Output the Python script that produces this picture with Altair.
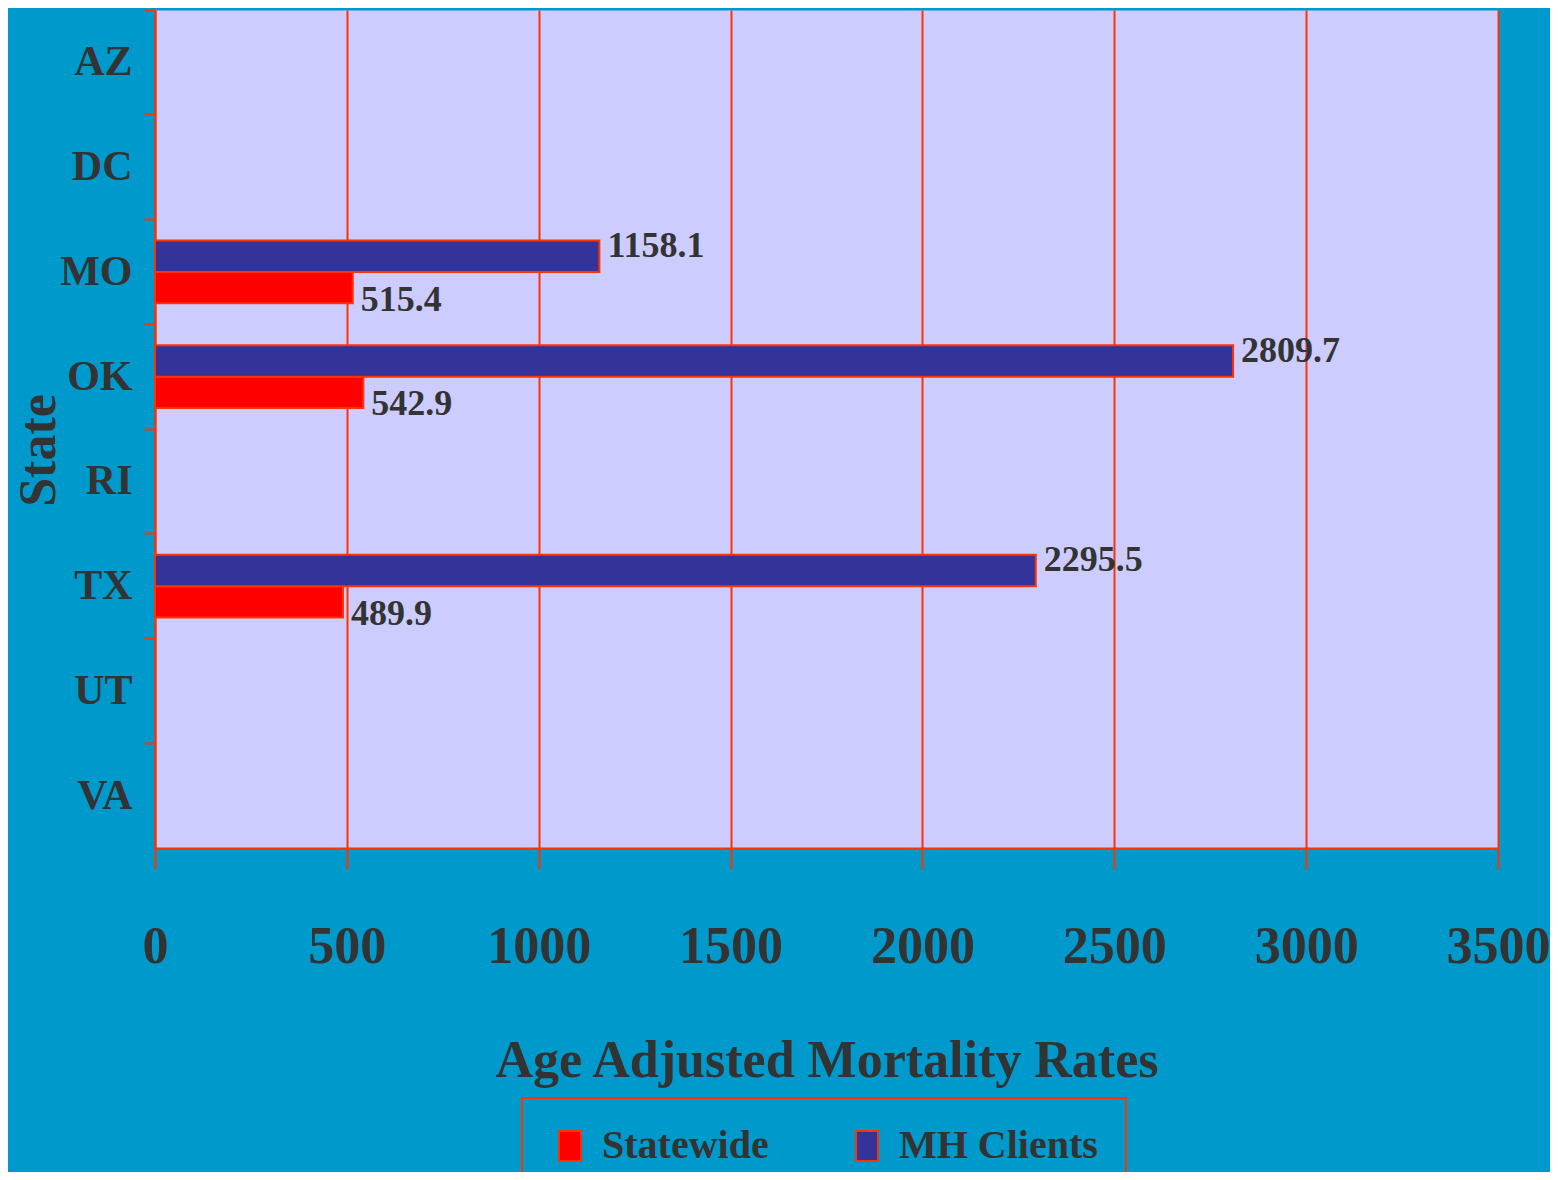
import altair as alt
import pandas as pd

states = ["AZ", "DC", "MO", "OK", "RI", "TX", "UT", "VA"]
data_states = ["MO", "OK", "TX"]
statewide = [515.4, 542.9, 489.9]
mh_clients = [1158.1, 2809.7, 2295.5]
series_names = ["Statewide", "MH Clients"]
x_ticks = [0, 500, 1000, 1500, 2000, 2500, 3000, 3500]

rows = []
for s, a, b in zip(data_states, statewide, mh_clients):
    rows.append({"State": s, "Series": "Statewide", "Value": a})
    rows.append({"State": s, "Series": "MH Clients", "Value": b})
df = pd.DataFrame(rows)

FONT = "Liberation Serif"
TXT = "#333333"
RED_LINE = "#FF3300"
BG = "#0099CC"

base = alt.Chart(df)

y_enc = alt.Y(
    "State:N",
    scale=alt.Scale(domain=states, paddingInner=0, paddingOuter=0),
    axis=alt.Axis(
        title="State",
        titleFont=FONT, titleFontSize=52, titleFontWeight="bold", titleColor=TXT,
        titleX=-117, titleY=440, titleBaseline="middle", titleAlign="center", titleAngle=270,
        labelFont=FONT, labelFontSize=42, labelFontWeight="bold", labelColor=TXT,
        labelPadding=12,
        tickColor=RED_LINE, tickSize=11, tickWidth=2, bandPosition=0,
        domainColor=RED_LINE, domainWidth=2, grid=False,
    ),
)
yoff_enc = alt.YOffset(
    "Series:N",
    scale=alt.Scale(domain=["MH Clients", "Statewide"], paddingInner=0, paddingOuter=0.67),
)
x_enc = alt.X(
    "Value:Q",
    scale=alt.Scale(domain=[0, 3500], nice=False),
    axis=alt.Axis(
        title="Age Adjusted Mortality Rates",
        titleFont=FONT, titleFontSize=52, titleFontWeight="bold", titleColor=TXT,
        titlePadding=63,
        values=x_ticks, format="d", labelFlush=False, labelBound=False,
        labelFont=FONT, labelFontSize=52, labelFontWeight="bold", labelColor=TXT,
        labelPadding=52,
        tickColor=RED_LINE, tickSize=21, tickWidth=2,
        domainColor=RED_LINE, domainWidth=2,
        grid=True, gridColor=RED_LINE, gridWidth=2, gridOpacity=1,
    ),
)

bars = base.mark_bar(stroke=RED_LINE, strokeWidth=2).encode(
    x=x_enc,
    y=y_enc,
    yOffset=yoff_enc,
    color=alt.Color(
        "Series:N",
        scale=alt.Scale(domain=series_names, range=["#FF0000", "#333399"]),
        legend=alt.Legend(
            title=None,
            orient="none", legendX=367, legendY=1088,
            direction="horizontal", columns=2, columnPadding=78,
            symbolType="M-0.73,-1H0.73V1H-0.73Z", symbolSize=900,
            symbolStrokeColor=RED_LINE, symbolStrokeWidth=2, symbolOpacity=1,
            labelFont=FONT, labelFontSize=40, labelFontWeight="bold", labelColor=TXT,
            labelOffset=12, labelLimit=400,
            padding=28, strokeColor=RED_LINE,
        ),
    ),
)

labels_mh = base.transform_filter(alt.datum.Series == "MH Clients").mark_text(
    align="left", baseline="middle", dx=8, dy=-10,
    font=FONT, fontSize=36, fontWeight="bold", color=TXT,
).encode(
    x=alt.X("Value:Q"),
    y=alt.Y("State:N"),
    yOffset=alt.YOffset("Series:N"),
    text=alt.Text("Value:Q", format=".1f"),
)

labels_sw = base.transform_filter(alt.datum.Series == "Statewide").mark_text(
    align="left", baseline="middle", dx=8, dy=12,
    font=FONT, fontSize=36, fontWeight="bold", color=TXT,
).encode(
    x=alt.X("Value:Q"),
    y=alt.Y("State:N"),
    yOffset=alt.YOffset("Series:N"),
    text=alt.Text("Value:Q", format=".1f"),
)

chart = alt.layer(bars, labels_mh, labels_sw).properties(
    width=1343,
    height=838,
    autosize=alt.AutoSizeParams(type="none"),
    padding={"left": 147, "top": 2, "right": 52, "bottom": 324},
    background=BG,
).configure_view(
    fill="#CCCCFF", stroke="transparent"
).configure_legend(
    strokeWidth=2
)

chart.save("out.html", embed_options={"renderer": "svg", "actions": False})
